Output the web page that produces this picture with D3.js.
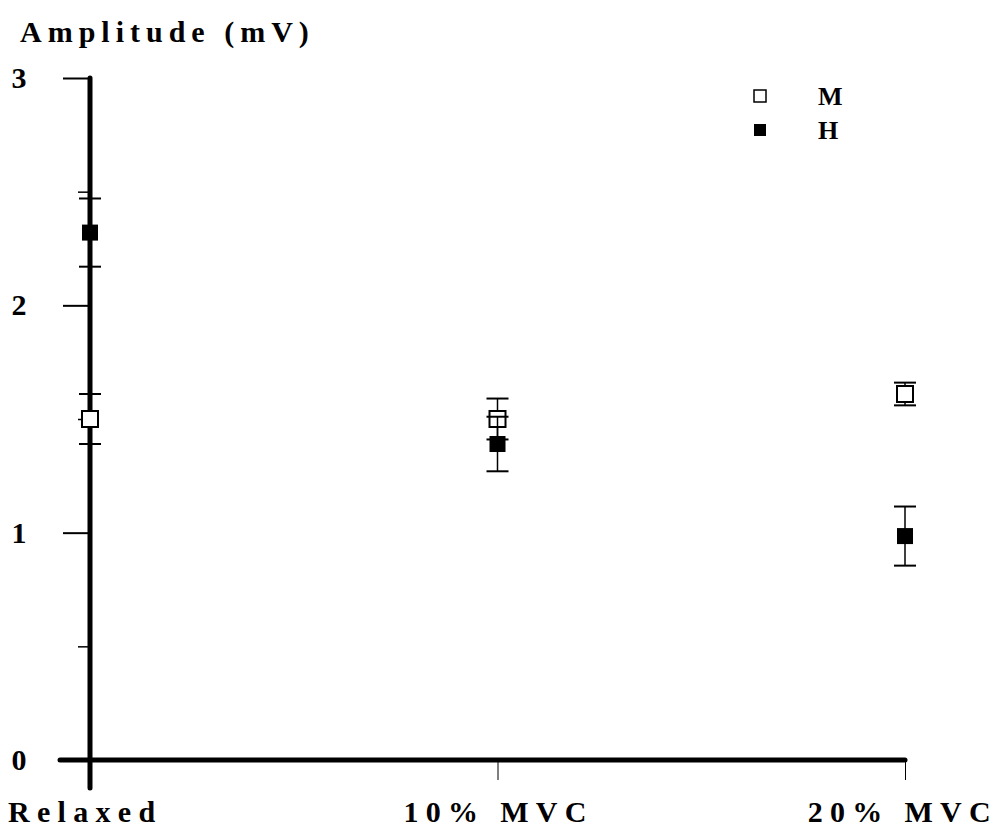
<!DOCTYPE html>
<html><head><meta charset="utf-8">
<script src="https://cdn.jsdelivr.net/npm/d3@7"></script>
<style>body{margin:0;background:#fff}svg{display:block}text{font-family:"Liberation Serif","DejaVu Serif",serif;font-weight:bold;fill:#000}</style>
</head><body><svg id="c" width="998" height="836"></svg>
<script>
const categories = ["Relaxed", "10% MVC", "20% MVC"];
const mValues = [1.50, 1.50, 1.61];
const mErr = [0.11, 0.09, 0.05];
const hValues = [2.32, 1.39, 0.985];
const hErr = [0.15, 0.12, 0.13];
const yTicks = [0, 1, 2, 3];
const yMinorTicks = [0.5, 1.5, 2.5];
const legendItems = ["M", "H"];

const svg = d3.select("#c");
const x = d3.scalePoint().domain(categories).range([90, 905]);
const y = d3.scaleLinear().domain([0, 3]).range([760, 78]);

// axes
svg.append("line").attr("x1", 90).attr("x2", 90).attr("y1", y(3)).attr("y2", 788).attr("stroke", "#000").attr("stroke-width", 5).attr("stroke-linecap", "round");
svg.append("line").attr("x1", 60).attr("x2", x(categories[2])).attr("y1", y(0)).attr("y2", y(0)).attr("stroke", "#000").attr("stroke-width", 5).attr("stroke-linecap", "round");

const yAxis = d3.axisLeft(y).tickValues(yTicks).tickSize(27).tickFormat("");
const gy = svg.append("g").attr("transform", "translate(90,0)").call(yAxis);
gy.select(".domain").remove();
gy.selectAll("line").attr("stroke", "#000").attr("stroke-width", 2);
const yAxisMinor = d3.axisLeft(y).tickValues(yMinorTicks).tickSize(12).tickFormat("");
const gym = svg.append("g").attr("transform", "translate(90,0)").call(yAxisMinor);
gym.select(".domain").remove();
gym.selectAll("line").attr("stroke", "#000").attr("stroke-width", 1.5);

svg.selectAll(".ylab").data(yTicks).join("text").attr("class", "ylab")
  .attr("x", 19).attr("y", d => y(d) + 10).attr("text-anchor", "middle").attr("font-size", 30).text(d => d);

// x ticks
const xAxis = d3.axisBottom(x).tickValues(categories.slice(1)).tickSize(20).tickFormat("");
const gx = svg.append("g").attr("transform", `translate(0,${y(0)})`).call(xAxis);
gx.select(".domain").remove();
gx.selectAll("line").attr("stroke", "#000").attr("stroke-width", 1);

const xlabPos = [{a: "start", dx: -82}, {a: "start", dx: -94}, {a: "end", dx: 93}];
svg.selectAll(".xlab").data(categories).join("text").attr("class", "xlab")
  .attr("x", (d, i) => x(d) + xlabPos[i].dx).attr("y", 822)
  .attr("text-anchor", (d, i) => xlabPos[i].a)
  .attr("font-size", 30).attr("letter-spacing", 7.3).text(d => d);

svg.append("text").attr("x", 20).attr("y", 42).attr("font-size", 30).attr("letter-spacing", 6).text("Amplitude (mV)");

function drawSeries(vals, errs, filled) {
  const g = svg.append("g");
  vals.forEach((v, i) => {
    const cx = x(categories[i]);
    const top = y(v + errs[i]), bot = y(v - errs[i]);
    g.append("line").attr("x1", cx).attr("x2", cx).attr("y1", top).attr("y2", bot).attr("stroke", "#000").attr("stroke-width", 1.5);
    [top, bot].forEach(yy => g.append("line").attr("x1", cx - 11).attr("x2", cx + 11).attr("y1", yy).attr("y2", yy).attr("stroke", "#000").attr("stroke-width", 2));
    g.append("rect").attr("x", cx - 8).attr("y", y(v) - 8).attr("width", 16).attr("height", 16)
      .attr("fill", filled ? "#000" : "#fff").attr("stroke", "#000").attr("stroke-width", filled ? 0 : 2);
  });
}
drawSeries(mValues, mErr, false);
drawSeries(hValues, hErr, true);

// legend
legendItems.forEach((name, i) => {
  const ly = 96 + i * 34;
  svg.append("rect").attr("x", 754).attr("y", ly - 6).attr("width", 12).attr("height", 12)
    .attr("fill", i ? "#000" : "#fff").attr("stroke", "#000").attr("stroke-width", i ? 0 : 1.5);
  svg.append("text").attr("x", 818).attr("y", ly + 9).attr("font-size", 26).text(name);
});
</script></body></html>
